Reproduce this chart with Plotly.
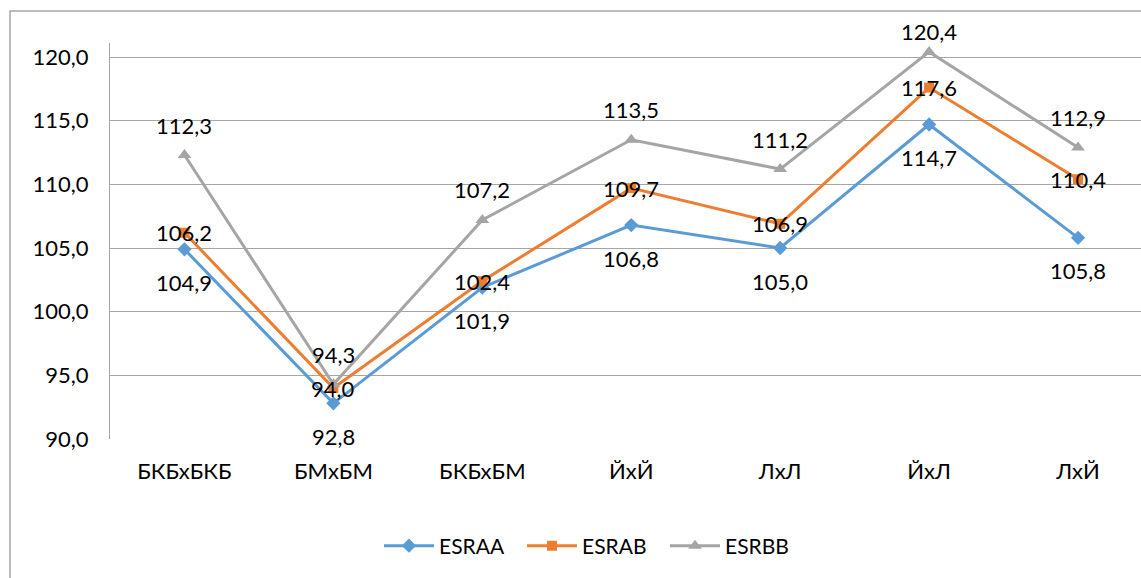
import plotly.graph_objects as go

categories = ["БКБхБКБ", "БМхБМ", "БКБхБМ", "ЙхЙ", "ЛхЛ", "ЙхЛ", "ЛхЙ"]
esraa = [104.9, 92.8, 101.9, 106.8, 105.0, 114.7, 105.8]
esrab = [106.2, 94.0, 102.4, 109.7, 106.9, 117.6, 110.4]
esrbb = [112.3, 94.3, 107.2, 113.5, 111.2, 120.4, 112.9]
y_ticks = [90, 95, 100, 105, 110, 115, 120]

FONT = "Lato"
FS = 22
fig = go.Figure()
series = [
    ("ESRAA", esraa, "#5B9BD5", "diamond", 11, -33),
    ("ESRAB", esrab, "#ED7D31", "square", 10, 0),
    ("ESRBB", esrbb, "#A5A5A5", "triangle-up", 12, 30),
]
x_idx = list(range(len(categories)))
annotations = []
for name, vals, col, sym, msz, shift in series:
    fig.add_trace(go.Scatter(
        x=x_idx, y=vals, name=name, mode="lines+markers",
        line=dict(color=col, width=3),
        marker=dict(symbol=sym, size=msz, color=col),
        cliponaxis=False,
    ))
    for i, v in zip(x_idx, vals):
        annotations.append(dict(
            x=i, y=v, xref="x", yref="y", text=f"{v:.1f}".replace(".", ","),
            showarrow=False, yshift=min(shift, 20) if v > 120 else shift,
            font=dict(family=FONT, size=FS, color="#000000"),
        ))

L, T, B = 110, 43, 139
W, H = 1141, 578
pw, ph = W - L, H - T - B
def px(x): return (x - L) / pw
def py(y): return (H - B - y) / ph

fig.update_layout(
    width=W, height=H,
    margin=dict(l=L, r=0, t=T, b=B, pad=0, autoexpand=False),
    paper_bgcolor="white", plot_bgcolor="white",
    separators=", ",
    font=dict(family=FONT, size=FS, color="#000000"),
    showlegend=True,
    legend=dict(orientation="h", x=px(379), xanchor="left", y=py(546), yanchor="middle",
                font=dict(family=FONT, size=21), itemwidth=50,
                entrywidth=78, entrywidthmode="pixels", traceorder="normal"),
    annotations=annotations,
    shapes=[dict(type="rect", xref="paper", yref="paper",
                 x0=px(10), y0=py(590), x1=px(1160), y1=py(11),
                 line=dict(color="#A6A6A6", width=1.5), layer="below")],
    xaxis=dict(
        tickmode="array", tickvals=x_idx, ticktext=categories,
        range=[-0.5, 6 + (W - 1078) / 149.0],
        showgrid=False, zeroline=False, showline=False, ticks="",
        ticklabelstandoff=17, automargin=False,
        tickfont=dict(family=FONT, size=FS),
    ),
    yaxis=dict(
        range=[90, 121.1], tickvals=y_ticks, tickformat=".1f",
        showgrid=True, gridcolor="#A6A6A6", gridwidth=1.2,
        zeroline=False, showline=True, linecolor="#A6A6A6", linewidth=1.2,
        ticks="", ticklabelstandoff=16, automargin=False,
        tickfont=dict(family=FONT, size=FS),
    ),
)
fig.write_html("out.html", config={"displayModeBar": False},
               post_script="document.body.style.margin='0px';")
